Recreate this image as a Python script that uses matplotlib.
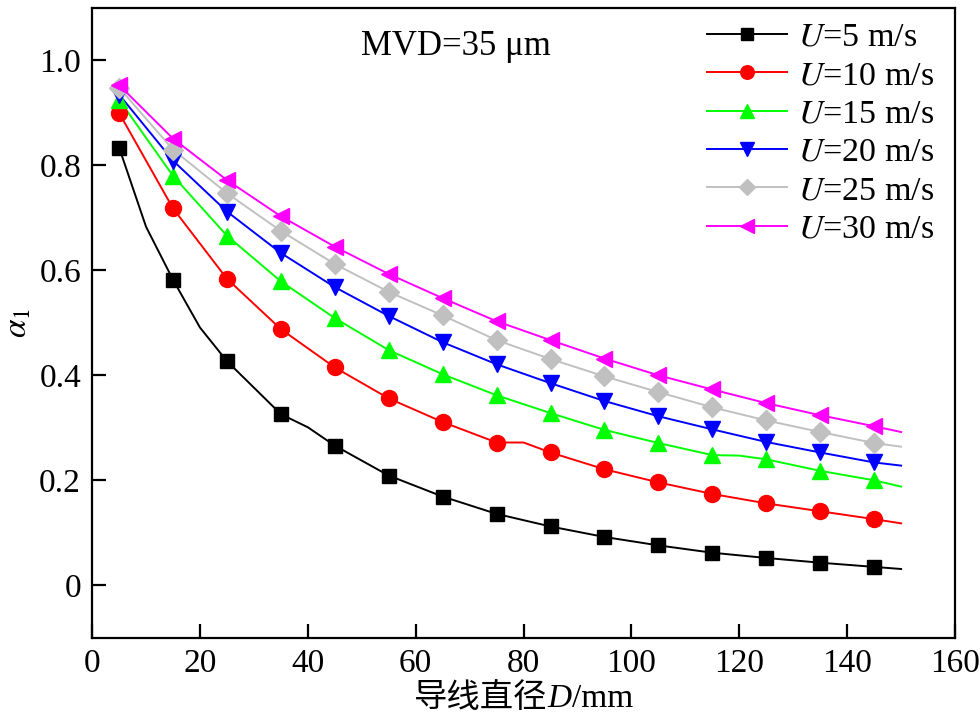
import matplotlib
matplotlib.use('Agg')
import matplotlib.pyplot as plt

plt.rcParams['font.family'] = ['Liberation Serif', 'Noto Sans CJK SC']
plt.rcParams['mathtext.fontset'] = 'stix'

# diameters where markers sit
d = [5, 15, 25, 35, 45, 55, 65, 75, 85, 95, 105, 115, 125, 135, 145]

a_u5 = [0.834, 0.582, 0.427, 0.326, 0.266, 0.209, 0.169, 0.136, 0.112, 0.092, 0.076, 0.062, 0.052, 0.043, 0.035]
a_u10 = [0.900, 0.718, 0.584, 0.488, 0.415, 0.356, 0.311, 0.272, 0.253, 0.221, 0.196, 0.174, 0.156, 0.141, 0.126]
a_u15 = [0.925, 0.780, 0.666, 0.579, 0.509, 0.448, 0.402, 0.362, 0.328, 0.296, 0.271, 0.248, 0.240, 0.218, 0.200]
a_u20 = [0.935, 0.809, 0.712, 0.633, 0.568, 0.513, 0.463, 0.421, 0.385, 0.351, 0.322, 0.297, 0.273, 0.253, 0.234]
a_u25 = [0.948, 0.830, 0.747, 0.675, 0.612, 0.559, 0.514, 0.467, 0.431, 0.398, 0.368, 0.339, 0.314, 0.292, 0.271]
a_u30 = [0.953, 0.851, 0.772, 0.703, 0.645, 0.593, 0.547, 0.503, 0.467, 0.432, 0.400, 0.373, 0.347, 0.324, 0.303]

# extra points of the fitted curves (between markers and the end at 150 mm)
extra_u5 = {10: 0.683, 20: 0.491, 40: 0.301, 150: 0.031}
extra_u10 = {80: 0.272, 150: 0.118}
extra_u15 = {120: 0.247, 150: 0.188}
extra_u20 = {150: 0.228}
extra_u25 = {150: 0.264}
extra_u30 = {150: 0.292}

speeds = [5, 10, 15, 20, 25, 30]
series = [a_u5, a_u10, a_u15, a_u20, a_u25, a_u30]
extras = [extra_u5, extra_u10, extra_u15, extra_u20, extra_u25, extra_u30]
colors = ['black', '#ff0000', '#00ff00', '#0000ff', '#c0c0c0', '#ff00ff']
markers = ['s', 'o', '^', 'v', 'D', '<']
msizes = [10.5, 11.5, 12, 12, 10, 12]

fig = plt.figure(figsize=(9.8, 7.19), dpi=100)
ax = fig.add_axes([0.094, 0.113, 0.8805, 0.876])

for u, y, ex, c, m, ms in zip(speeds, series, extras, colors, markers, msizes):
    pts = sorted(list(zip(d, y)) + list(ex.items()))
    lx = [p[0] for p in pts]
    ly = [p[1] for p in pts]
    ax.plot(lx, ly, color=c, lw=1.4, zorder=2)
    ax.plot(d, y, ls='none', marker=m, ms=ms, color=c, mec=c, zorder=3)
    ax.plot([], [], color=c, lw=1.4, marker=m, ms=ms, mec=c, label='$U$=%d m/s' % u)

ax.set_xlim(0, 160)
ax.set_ylim(-0.1, 1.1)
ax.set_xticks([0, 20, 40, 60, 80, 100, 120, 140, 160])
ax.set_yticks([0, 0.2, 0.4, 0.6, 0.8, 1.0])
ax.set_yticklabels(['0', '0.2', '0.4', '0.6', '0.8', '1.0'])
ax.tick_params(direction='in', length=10, width=1.6, labelsize=24, pad=8)
for s in ax.spines.values():
    s.set_linewidth(1.6)

ax.set_ylabel(r'$\alpha_1$', fontsize=24, labelpad=4)

ax.text(67.5, 1.026, 'MVD=35 μm', fontsize=25, ha='center', va='center')

ax.legend(loc='upper right', frameon=False, fontsize=24.5, handlelength=2.35,
          markerscale=0.85, labelspacing=0.22, handletextpad=0.3,
          borderaxespad=0.0, bbox_to_anchor=(0.991, 0.999))

# x label: Chinese part + italic D + /mm, laid side by side
fig.canvas.draw()
r = fig.canvas.get_renderer()
parts = [('导线直径', 'normal'), ('D', 'italic'), ('/mm', 'normal')]
texts = [fig.text(0, 0, s, fontsize=24, style=st, va='baseline') for s, st in parts]
widths = [t.get_window_extent(r).width for t in texts]
total = sum(widths)
x0 = 523.5 - total / 2
for t, w in zip(texts, widths):
    t.set_position((x0 / 980, 12 / 719))
    x0 += w

fig.savefig('out.png', dpi=100)
